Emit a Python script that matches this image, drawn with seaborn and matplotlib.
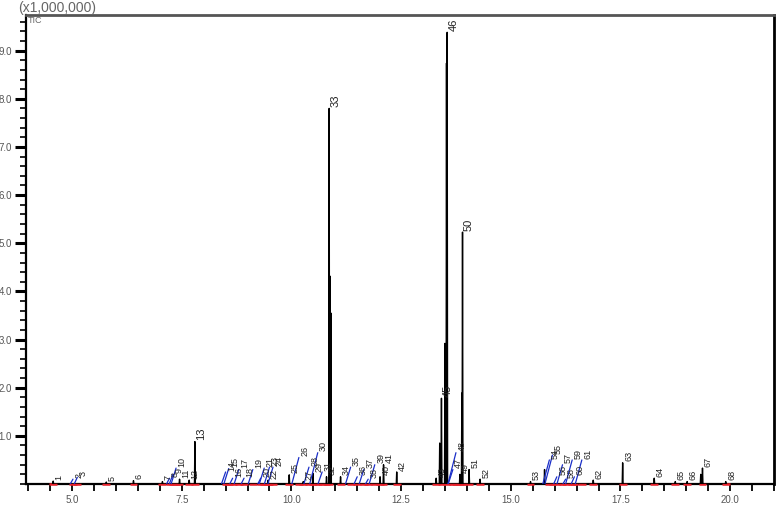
import matplotlib
matplotlib.use("Agg")
import matplotlib.pyplot as plt
import seaborn as sns
import pandas as pd
from matplotlib.ticker import MultipleLocator, FormatStrFormatter, FixedLocator

# ---------------- data ----------------
# retention time (min), intensity (x1,000,000), peak number, peak type
peak_times = [4.57, 5.02, 5.12, 5.78, 6.40, 7.06, 7.22, 7.30, 7.37, 7.45, 7.67, 7.80,
              8.50, 8.57, 8.66, 8.80, 8.92, 9.12, 9.30, 9.38, 9.47, 9.50, 9.58,
              9.95, 10.17, 10.27, 10.40, 10.49, 10.60, 10.70, 10.80, 10.86, 10.875, 10.90,
              11.12, 11.35, 11.50, 11.65, 11.75, 11.90, 12.02, 12.10, 12.40,
              13.30, 13.38, 13.42, 13.50, 13.535, 13.55, 13.68, 13.75, 13.84, 13.885, 13.90,
              14.05, 14.30, 15.45, 15.77, 15.88, 15.95, 16.05, 16.18, 16.25, 16.40, 16.45,
              16.62, 16.88, 17.55, 18.27, 18.75, 19.02, 19.33, 19.37, 19.90]
peak_heights = [0.06, 0.10, 0.14, 0.04, 0.07, 0.05, 0.12, 0.20, 0.33, 0.10, 0.08, 0.88,
                0.25, 0.32, 0.12, 0.30, 0.12, 0.30, 0.12, 0.33, 0.08, 0.35, 0.35,
                0.19, 0.55, 0.05, 0.35, 0.22, 0.65, 0.25, 0.15, 7.80, 4.32, 3.55,
                0.15, 0.35, 0.15, 0.30, 0.10, 0.40, 0.15, 0.40, 0.25,
                0.12, 0.85, 1.78, 2.92, 8.74, 9.38, 0.30, 0.65, 0.20, 1.89, 5.23,
                0.30, 0.10, 0.05, 0.30, 0.50, 0.60, 0.15, 0.40, 0.10, 0.50, 0.15,
                0.50, 0.08, 0.44, 0.12, 0.05, 0.05, 0.20, 0.33, 0.05]
peak_labels = ["1", "2", "3", "5", "6", "7", "8", "9", "10", "11", "12", "13",
               "14", "15", "16", "17", "18", "19", "20", "21", "22", "23", "24",
               "25", "26", "27", "28", "29", "30", "31", "32", "33", "", "",
               "34", "35", "36", "37", "38", "39", "40", "41", "42",
               "43", "", "45", "", "", "46", "47", "48", "49", "", "50",
               "51", "52", "53", "", "54", "55", "56", "57", "58", "59", "60",
               "61", "62", "63", "64", "65", "66", "", "67", "68"]
peak_types = ["spike", "slant", "slant", "spike", "spike", "spike", "slant", "slant", "slant", "spike", "spike", "spike",
              "slant", "slant", "slant", "slant", "slant", "slant", "slant", "slant", "spike", "slant", "slant",
              "spike", "slant", "spike", "slant", "spike", "slant", "slant", "spike", "spike", "spike", "spike",
              "spike", "slant", "slant", "slant", "slant", "slant", "spike", "spike", "spike",
              "spike", "spike", "spike", "spike", "spike", "spike", "slant", "slant", "spike", "spike", "spike",
              "spike", "spike", "spike", "spike", "slant", "slant", "slant", "slant", "slant", "slant", "slant",
              "slant", "spike", "spike", "spike", "spike", "spike", "spike", "spike", "spike"]
x_ticks = [5.0, 7.5, 10.0, 12.5, 15.0, 17.5, 20.0]
y_ticks = [1.0, 2.0, 3.0, 4.0, 5.0, 6.0, 7.0, 8.0, 9.0]

peaks = pd.DataFrame({"t": peak_times, "h": peak_heights,
                      "label": peak_labels, "kind": peak_types})

# ---------------- figure ----------------
sns.set_theme(style="white")
plt.rcParams["font.family"] = ["Liberation Sans", "DejaVu Sans"]

fig = plt.figure(figsize=(7.78, 5.05), dpi=100)
ax = fig.add_axes([26 / 778, 1 - 484 / 505, (774 - 26) / 778, (484 - 15) / 505])

# red baseline integration segments
for _, p in peaks[peaks.label != ""].iterrows():
    ax.plot([p.t - 0.09, p.t + 0.09], [0, 0], color="#e8202a", lw=1.8,
            solid_capstyle="butt", zorder=3, clip_on=False)

# black chromatogram trace built from the spike peaks
half_w = 0.01
rows = []
for _, p in peaks[peaks.kind == "spike"].iterrows():
    rows += [(p.t - half_w, 0.0), (p.t, p.h), (p.t + half_w, 0.0)]
trace = pd.DataFrame(rows, columns=["time", "intensity"])
sns.lineplot(data=trace, x="time", y="intensity", sort=False, estimator=None,
             color="black", lw=1.0, ax=ax, zorder=4)

# blue slanted peak marks
for _, p in peaks[peaks.kind == "slant"].iterrows():
    lean = 0.04 + 0.22 * p.h
    ax.plot([p.t - lean, p.t], [0, p.h], color="#1a2ec8", lw=0.9, zorder=5)

# peak number labels
for _, p in peaks[peaks.label != ""].iterrows():
    ax.annotate(p.label, (p.t, p.h), xytext=(1.0, 1.0), textcoords="offset points",
                rotation=90, ha="left", va="bottom",
                fontsize=8 if p.h > 0.8 else 6.5, color="#222222", zorder=6)

ax.set_xlim(3.95, 21.0)
ax.set_ylim(0, 9.74)
ax.set_xlabel("")
ax.set_ylabel("")

ax.xaxis.set_major_locator(FixedLocator(x_ticks))
ax.xaxis.set_minor_locator(MultipleLocator(0.5))
ax.yaxis.set_major_locator(FixedLocator(y_ticks))
ax.yaxis.set_minor_locator(MultipleLocator(0.2))
ax.xaxis.set_major_formatter(FormatStrFormatter("%.1f"))
ax.yaxis.set_major_formatter(FormatStrFormatter("%.1f"))

ax.tick_params(axis="y", which="major", direction="out", length=8, width=2.2,
               color="black", labelsize=7, labelcolor="#555555", pad=2, left=True)
ax.tick_params(axis="y", which="minor", direction="out", length=4, width=1.2,
               color="black", left=True)
ax.tick_params(axis="x", which="major", direction="out", length=5, width=1.3,
               color="black", labelsize=7, labelcolor="#555555", pad=3, bottom=True)
ax.tick_params(axis="x", which="minor", direction="out", length=5, width=1.3,
               color="black", bottom=True)

for side in ["left", "bottom", "right"]:
    ax.spines[side].set_color("black")
    ax.spines[side].set_linewidth(1.6)
ax.spines["right"].set_linewidth(2.0)
ax.spines["top"].set_color("#555555")
ax.spines["top"].set_linewidth(2.0)

fig.text(18 / 778, 1 - 1 / 505, "(x1,000,000)", ha="left", va="top",
         fontsize=10, color="#666666")
ax.text(0.003, 0.997, "TIC", transform=ax.transAxes, ha="left", va="top",
        fontsize=6.5, color="#666666")

fig.savefig("out.png", dpi=100)
